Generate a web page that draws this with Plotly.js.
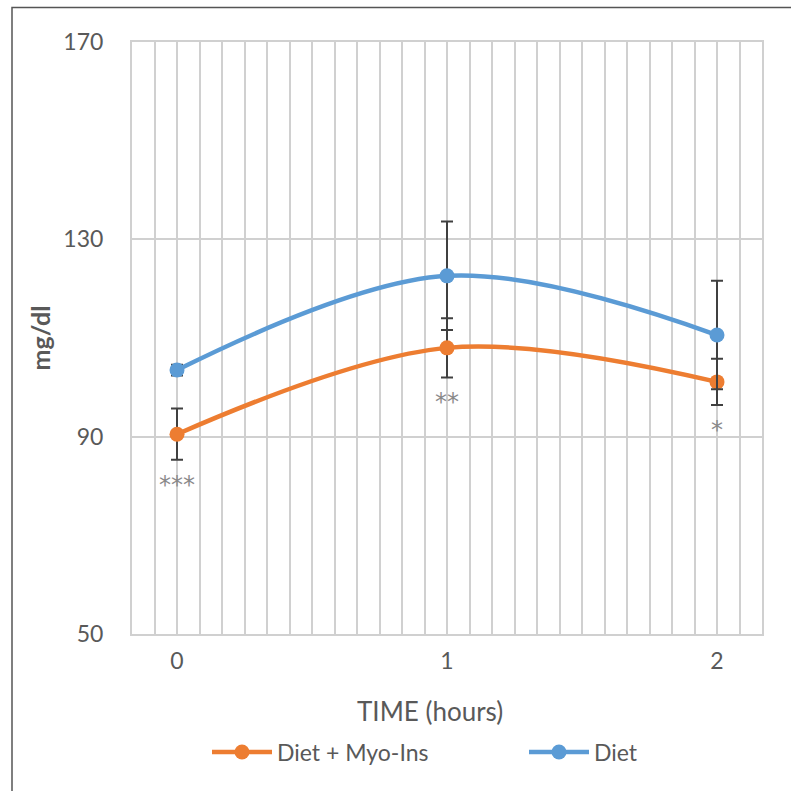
<!DOCTYPE html>
<html>
<head>
<meta charset="utf-8">
<script src="https://cdn.plot.ly/plotly-3.0.1.min.js"></script>
<style>html,body{margin:0;padding:0;background:#fff;}#chart{width:791px;height:791px;}</style>
</head>
<body>
<div id="chart"></div>
<script>
// Data
const timeHours = [0, 1, 2];
const dietMyoIns = [90.5, 108.0, 101.1];
const dietMyoInsErr = [5.2, 6.0, 4.7];
const diet = [103.5, 122.6, 110.6];
const dietErr = [1.1, 11.0, 11.0];
const sigLabels = ['***', '**', '*'];
const yTicks = [50, 90, 130, 170];
const xTicks = [0, 1, 2];

const FONT = 'Lato, "Open Sans", "Liberation Sans", sans-serif';
const W = 791, H = 791, L = 132, R = 29, T = 42, B = 157;
const pw = W - L - R, ph = H - T - B;
const px = v => (v - L) / pw;
const py = v => (H - B - v) / ph;

const traces = [
  {
    name: 'Diet + Myo-Ins', x: timeHours, y: dietMyoIns, type: 'scatter', mode: 'lines+markers',
    line: {color: '#ED7D31', width: 4.5, shape: 'spline', smoothing: 1},
    marker: {color: '#ED7D31', size: 15},
    error_y: {type: 'data', array: dietMyoInsErr, visible: true, color: '#404040', thickness: 2, width: 6},
    legend: 'legend'
  },
  {
    name: 'Diet', x: timeHours, y: diet, type: 'scatter', mode: 'lines+markers',
    line: {color: '#5B9BD5', width: 4.5, shape: 'spline', smoothing: 1},
    marker: {color: '#5B9BD5', size: 15},
    error_y: {type: 'data', array: dietErr, visible: true, color: '#404040', thickness: 2, width: 6},
    legend: 'legend2'
  }
];

const annotations = sigLabels.map((s, i) => ({
  x: timeHours[i], y: dietMyoIns[i] - dietMyoInsErr[i] - 1.8,
  xref: 'x', yref: 'y', text: s, showarrow: false, yanchor: 'top',
  font: {family: '"DejaVu Sans", sans-serif', size: 24, color: '#8A8A8A'}
}));
annotations.push({
  x: px(430), y: py(711), xref: 'paper', yref: 'paper', showarrow: false,
  xanchor: 'center', yanchor: 'middle', text: 'TIME (hours)',
  font: {family: FONT, size: 26, color: '#595959'}
});

const legendFont = {family: FONT, size: 23, color: '#595959'};

const layout = {
  width: W, height: H,
  margin: {l: L, r: R, t: T, b: B, autoexpand: false},
  paper_bgcolor: '#fff', plot_bgcolor: '#fff',
  font: {family: FONT, color: '#595959'},
  showlegend: true,
  legend: {orientation: 'h', x: px(207), xanchor: 'left', y: py(752), yanchor: 'middle',
           font: legendFont, itemwidth: 60},
  legend2: {orientation: 'h', x: px(524), xanchor: 'left', y: py(752), yanchor: 'middle',
           font: legendFont, itemwidth: 60},
  xaxis: {
    range: [-1/6, 13/6], tickvals: xTicks, ticktext: xTicks.map(String),
    showgrid: true, gridcolor: '#D0D0D0', gridwidth: 2,
    minor: {dtick: 1/12, tick0: 0, showgrid: true, gridcolor: '#D0D0D0', gridwidth: 2, ticks: ''},
    zeroline: false, showline: true, linecolor: '#D0D0D0', linewidth: 2, mirror: true,
    ticks: '', ticklabelstandoff: 5,
    tickfont: {family: FONT, size: 23, color: '#595959'}
  },
  yaxis: {
    range: [50, 170], tickvals: yTicks, showgrid: true, gridcolor: '#D0D0D0', gridwidth: 2,
    zeroline: false, showline: true, linecolor: '#D0D0D0', linewidth: 2, mirror: true,
    ticks: '', ticklabelstandoff: 22,
    tickfont: {family: FONT, size: 23, color: '#595959'},
    title: {text: '<b>mg/dl</b>', font: {family: FONT, size: 25, color: '#595959'}, standoff: 6}
  },
  annotations: annotations,
  shapes: [{
    type: 'rect', xref: 'paper', yref: 'paper', layer: 'above',
    x0: px(12), x1: px(820), y0: py(820), y1: py(7.5),
    line: {color: '#555555', width: 1.5}, fillcolor: 'rgba(0,0,0,0)'
  }]
};

Plotly.newPlot('chart', traces, layout, {displayModeBar: false, staticPlot: true});
</script>
</body>
</html>
